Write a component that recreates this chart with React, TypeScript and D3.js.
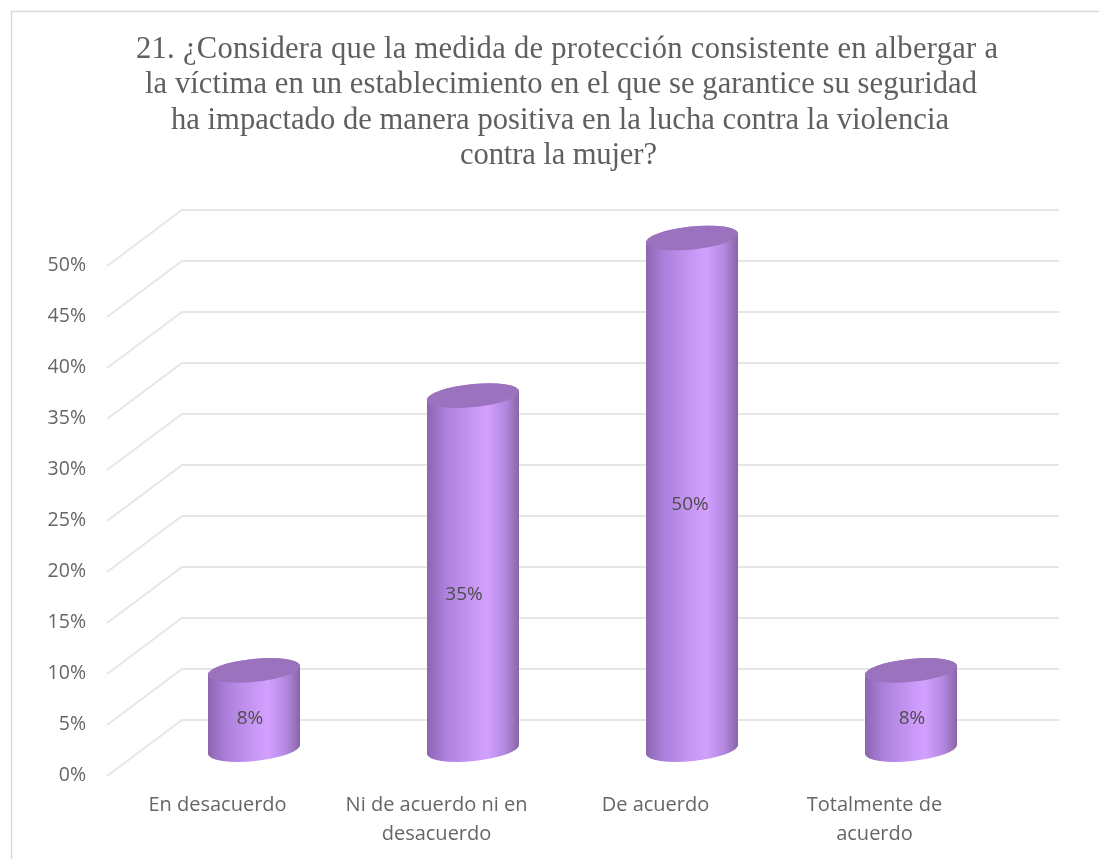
import React from "react";
import * as d3 from "d3";

const titleLines = [
  "21. ¿Considera que la medida de protección consistente en albergar a",
  "la víctima en un establecimiento en el que se garantice su seguridad",
  "ha impactado de manera positiva en la lucha contra la violencia",
  "contra la mujer?",
];
const categories = ["En desacuerdo", "Ni de acuerdo ni en desacuerdo", "De acuerdo", "Totalmente de acuerdo"];
const categoryLines = [["En desacuerdo"], ["Ni de acuerdo ni en", "desacuerdo"], ["De acuerdo"], ["Totalmente de", "acuerdo"]];
const values = [8.3, 34.8, 50, 8.3];
const ticks = [0, 5, 10, 15, 20, 25, 30, 35, 40, 45, 50];

const W = 1099, H = 859;
const yBack = d3.scaleLinear().domain([0, 50]).range([720, 210]);
const yFront = d3.scaleLinear().domain([0, 50]).range([776, 266]);
const yBar = d3.scaleLinear().domain([0, 50]).range([756.5, 238]);
const BASE = 749.5;
const x = d3.scaleBand().domain(categories).range([145, 1021]);
const RX = 46, RY = 11.5, TILT = -5.8;
const labelX = [250, 464, 690, 912];
const labelY = [724, 600, 510, 724];
const titleX = [567, 561, 560, 558.5];
const titleW = [862, 832, 778, 197];

export default function App() {
  return (
    <svg width={W} height={H} viewBox={`0 0 ${W} ${H}`} style={{ position: "absolute", left: 0, top: 0, background: "#fff", filter: "blur(0.4px)" }}>
      <defs>
        <linearGradient id="cyl" x1="0" x2="1" y1="0" y2="0">
          <stop offset="0" stopColor="#8c66b0" />
          <stop offset="0.2" stopColor="#ac80dc" />
          <stop offset="0.5" stopColor="#c897f5" />
          <stop offset="0.65" stopColor="#d3a0ff" />
          <stop offset="0.85" stopColor="#b388e0" />
          <stop offset="1" stopColor="#8a64a6" />
        </linearGradient>
      </defs>
      <path d="M11.5 859V11.5H1099" fill="none" stroke="#d9d9d9" strokeWidth={1.5} />
      <g fontFamily="'Liberation Serif', serif" fontSize={30.6} fill="#5f5f5f" textAnchor="middle">
        {titleLines.map((t, i) => (
          <text key={i} x={titleX[i]} y={58 + i * 35.3} textLength={titleW[i]} lengthAdjust="spacing">{t}</text>
        ))}
      </g>
      <g stroke="#e6e6e6" strokeWidth={2} fill="none">
        {ticks.map((t) => (
          <path key={t} d={`M107 ${yFront(t)}L182 ${yBack(t)}H1059`} />
        ))}
      </g>
      <g fontFamily="'Open Sans', sans-serif" fontSize={19.5} fill="#666" textAnchor="end">
        {ticks.map((t) => (
          <text key={t} x={86} y={yFront(t) + 5}>{t}%</text>
        ))}
      </g>
      {values.map((v, i) => {
        const cx = x(categories[i])! + x.bandwidth() / 2 - 0.5;
        const top = yBar(v), bot = BASE;
        const rad = (TILT * Math.PI) / 180;
        const dx = RX, dy = RX * Math.tan(rad);
        const sweep = `A${RX} ${RY} ${TILT} 0 0`;
        const side = `M${cx - dx} ${top - dy}L${cx - dx} ${bot - dy}${sweep} ${cx + dx} ${bot + dy}L${cx + dx} ${top + dy}${sweep} ${cx - dx} ${top - dy}Z`;
        return (
          <g key={categories[i]}>
            <path d={side} fill="url(#cyl)" />
            <ellipse cx={cx} cy={top} rx={RX + 0.3} ry={RY} fill="#9a72bd" transform={`rotate(${TILT} ${cx} ${top})`} />
            <text x={labelX[i]} y={labelY[i]} textAnchor="middle" fontFamily="'Open Sans', sans-serif" fontSize={19} fill="#4d4d4d">{d3.format(".0f")(v)}%</text>
          </g>
        );
      })}
      <g fontFamily="'Open Sans', sans-serif" fontSize={20} fill="#666" textAnchor="middle">
        {categories.map((c, i) => {
          const cx = x(c)! + x.bandwidth() / 2 - 37;
          return categoryLines[i].map((l, j) => (
            <text key={l} x={cx} y={810.5 + j * 29.5}>{l}</text>
          ));
        })}
      </g>
    </svg>
  );
}
